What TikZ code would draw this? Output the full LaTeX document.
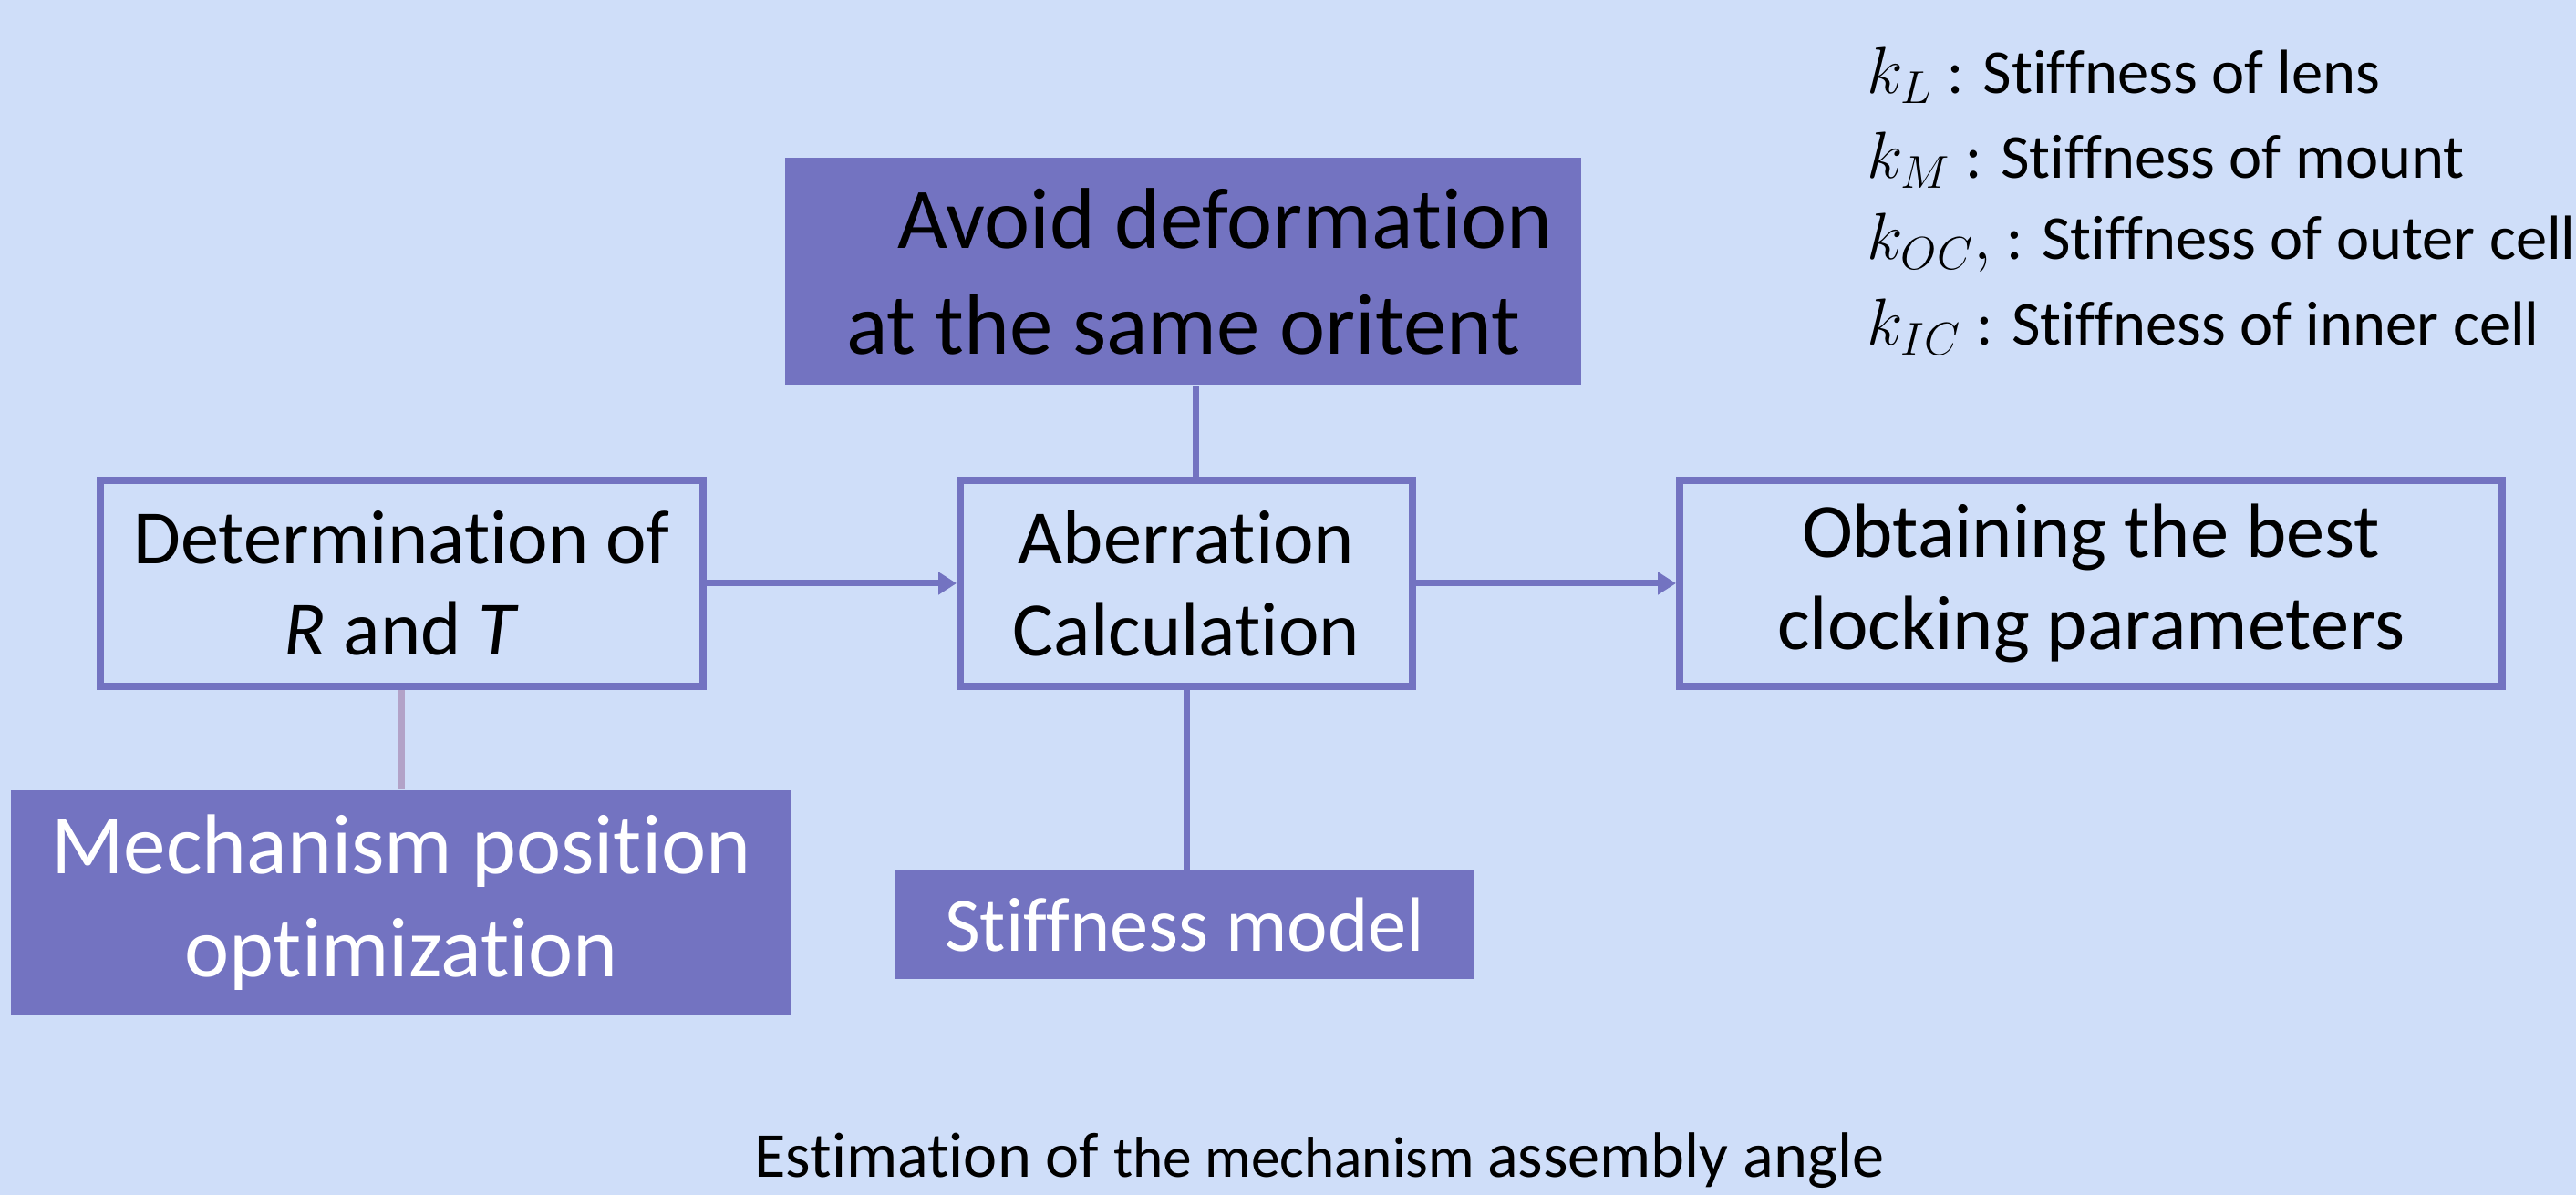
\documentclass[tikz,border=0pt]{standalone}
\usepackage{fontspec}
\setmainfont{Carlito}[Ligatures=NoCommon]
\usetikzlibrary{arrows.meta}
\definecolor{bgblue}{RGB}{207,222,249}
\definecolor{boxpurple}{RGB}{115,115,193}
\definecolor{linkgray}{RGB}{178,162,200}
\tikzset{
	stepbox/.style={draw=boxpurple, line width=0.08cm, align=center, inner sep=0pt, font=\fontsize{24}{28.6}\selectfont},
	fillbox/.style={fill=boxpurple, align=center, inner sep=0pt},
	link/.style={draw=boxpurple, line width=0.07cm},
	keyline/.style={anchor=base west, inner sep=0pt, font=\fontsize{19.5}{24}\selectfont}
}

\begin{document}
\begin{tikzpicture}
			%%%%% START %%%%%
			
			\useasboundingbox[fill=bgblue] (0,0) rectangle (28.25,13.11);
			
			\node[fillbox, minimum width=8.73cm, minimum height=2.49cm, font=\fontsize{27}{33}\selectfont] (avoid) at (12.975,10.135) {\hspace*{0.92cm}Avoid deformation\\at the same oritent};
			
			\node[stepbox, minimum width=6.61cm, minimum height=2.26cm] (det) at (4.405,6.71) {Determination of\\\textit{R} and \textit{T}};
			\node[stepbox, minimum width=4.96cm, minimum height=2.26cm] (aber) at (13.01,6.71) {Aberration\\Calculation};
			\node[stepbox, minimum width=9.02cm, minimum height=2.26cm] (obt) at (22.93,6.71) {Obtaining the best\\clocking parameters};
			
			\node[fillbox, text=white, minimum width=8.56cm, minimum height=2.46cm, font=\fontsize{26.5}{32}\selectfont] (mech) at (4.40,3.21) {Mechanism position\\optimization};
			\node[fillbox, text=white, minimum width=6.34cm, minimum height=1.19cm, font=\fontsize{24}{29}\selectfont] (stiff) at (12.99,2.965) {Stiffness model};
			
			\draw[link, -{Triangle[length=0.2cm,width=0.24cm]}] (det) -- (aber);
			\draw[link, -{Triangle[length=0.2cm,width=0.24cm]}] (aber) -- (obt);
			\draw[link] ([xshift=0.1cm]aber.north) -- ([xshift=0.1cm]aber.north |- avoid.south);
			\draw[link] (aber.south) -- (aber.south |- stiff.north);
			\draw[link, draw=linkgray] (det.south) -- (det.south |- mech.north);
			
			% stiffness symbols
			\node[keyline] (keyL) at (20.47,12.08) {$k_L$ : Stiffness of lens};
			\node[keyline] (keyM) at (20.47,11.15) {$k_M$ : Stiffness of mount};
			\node[keyline] (keyOC) at (20.47,10.26) {$k_{OC},$ : Stiffness of outer cell};
			\node[keyline] (keyIC) at (20.47,9.32) {$k_{IC}$ : Stiffness of inner cell};
			
			\node[anchor=base, inner sep=0pt] (caption) at (14.47,0.19) {{\fontsize{20}{24}\selectfont Estimation of }{\fontsize{18}{22}\selectfont the mechanism }{\fontsize{20}{24}\selectfont assembly angle}};
			
			%%%%% END %%%%%
\end{tikzpicture}
\end{document}
